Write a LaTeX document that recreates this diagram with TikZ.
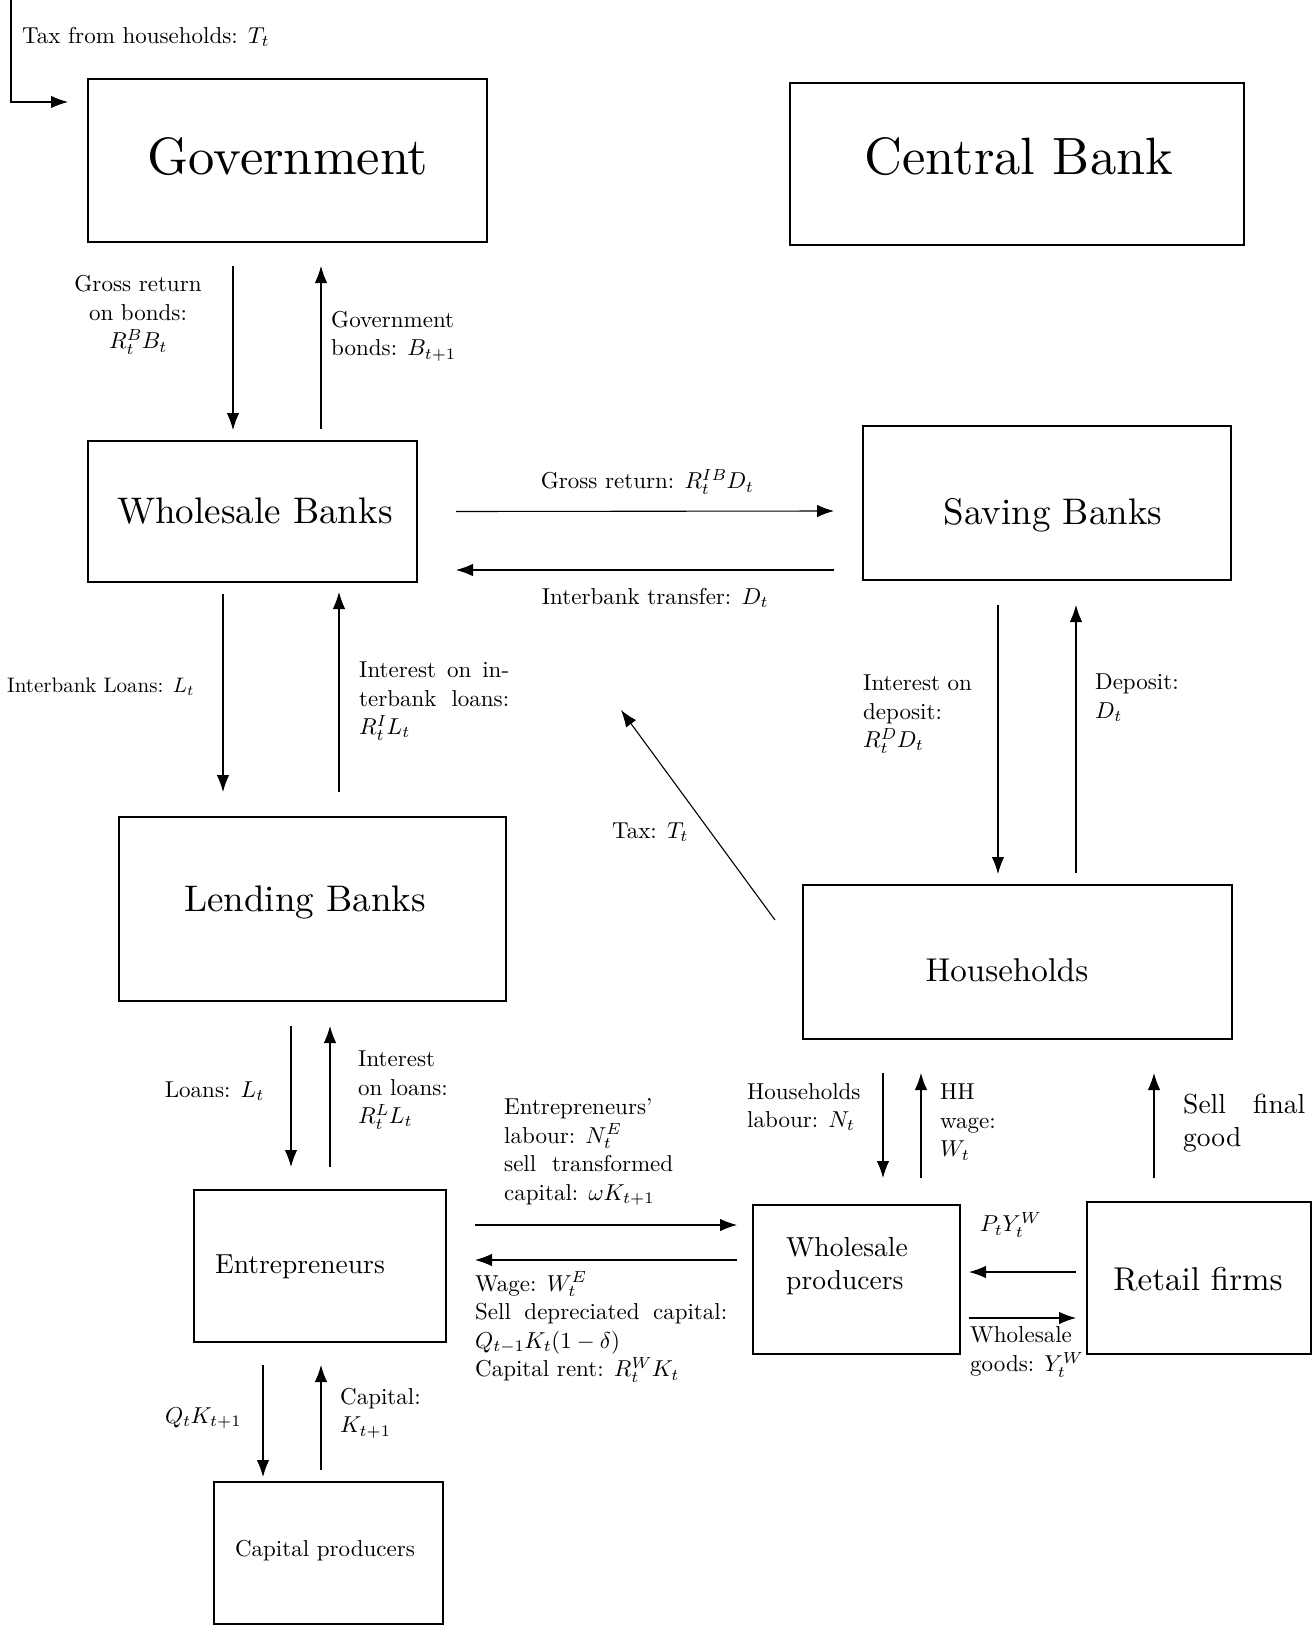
\documentclass[tikz,border=0pt]{standalone}
\usepackage{fix-cm}
\usepackage[no-math]{fontspec}
\setmainfont{lmroman10-regular.otf}[ItalicFont=lmroman10-italic.otf, BoldFont=lmroman10-bold.otf]
\DeclareFontShape{OML}{cmm}{m}{it}{<-14>cmmi5<14-20>cmmi7<20->cmmi10}{}
\DeclareFontShape{OMS}{cmsy}{m}{n}{<-14>cmsy5<14-20>cmsy7<20->cmsy10}{}
\DeclareFontShape{OT1}{cmr}{m}{n}{<-14>cmr5<14-20>cmr7<20->cmr10}{}
\usetikzlibrary{calc,arrows.meta}
\tikzset{
  box/.style={draw, line width=1.1pt, inner sep=0pt, outer sep=0pt},
  arr/.style={line width=1.1pt, -{Latex[length=17pt,width=12.5pt]}},
  lbl/.style={inner sep=0pt, font=\fontsize{23}{28.5}\selectfont},
  lbls/.style={inner sep=0pt, font=\fontsize{21}{26}\selectfont},
  ttHuge/.style={inner sep=0pt, font=\fontsize{52.5}{60}\selectfont},
  ttLarge/.style={inner sep=0pt, font=\fontsize{37}{44}\selectfont},
  ttlarge/.style={inner sep=0pt, font=\fontsize{33}{40}\selectfont},
  ttmed/.style={inner sep=0pt, font=\fontsize{27.5}{33}\selectfont},
}
\begin{document}
\begin{tikzpicture}[x=1pt,y=-1pt]
\useasboundingbox (0,0) rectangle (1315,1627);

% boxes
\node[box, minimum width=399pt, minimum height=163pt] (gov) at (287.5,160.5) {};
\node[box, minimum width=454pt, minimum height=162pt] (cb)  at (1017,164) {};
\node[box, minimum width=329pt, minimum height=141pt] (wb)  at (252.5,511.5) {};
\node[box, minimum width=368pt, minimum height=154pt] (sb)  at (1047,503) {};
\node[box, minimum width=387pt, minimum height=184pt] (lb)  at (312.5,909) {};
\node[box, minimum width=429pt, minimum height=154pt] (hh)  at (1017.5,962) {};
\node[box, minimum width=252pt, minimum height=152pt] (ent) at (320,1266) {};
\node[box, minimum width=207pt, minimum height=149pt] (wp)  at (856.5,1279.5) {};
\node[box, minimum width=224pt, minimum height=152pt] (rf)  at (1199,1278) {};
\node[box, minimum width=229pt, minimum height=142pt] (cp)  at (328.5,1553) {};

% titles
\node[ttHuge, anchor=base] (govt) at (288,174) {Government};
\node[ttHuge, anchor=base] (cbt) at (1019,174) {Central Bank};
\node[ttLarge, anchor=base] (wbt) at (255,523) {Wholesale Banks};
\node[ttLarge, anchor=base] (sbt) at (1053,524) {Saving Banks};
\node[ttLarge, anchor=base] (lbt) at (305,911) {Lending Banks};
\node[ttlarge, anchor=base] (hht) at (1007,981) {Households};
\node[ttlarge, anchor=base] (rft) at (1198,1290) {Retail firms};
\node[ttmed, anchor=base west] (entt) at (215,1273) {Entrepreneurs};
\node[ttmed, anchor=base west, align=left] (wpt) at (786,1289) {Wholesale\\producers};
\node[lbl, anchor=base] (cpt) at (325,1556) {Capital producers};

% tax from households
\coordinate (taxtop) at (11,0);
\draw[arr] (taxtop) |- ($(gov.north west)+(-20,23)$);
\node[lbl, anchor=west] (taxl) at (22,37) {Tax from households: $T_t$};

% government <-> wholesale banks
\draw[arr] ($(gov.south)+(-54.5,24)$) -- ($(wb.north)+(-19.5,-11)$);
\draw[arr] ($(wb.north)+(68.5,-12)$) -- ($(gov.south)+(33.5,24)$);
\node[lbl, align=center] (l1) at (138,315) {Gross return\\on bonds:\\$R^B_tB_t$};
\node[lbl, align=left, anchor=west] (l2) at (331,336) {Government\\bonds: $B_{t+1}$};

% wholesale banks <-> saving banks
\draw[arr] ($(wb.east)+(39,0)$) -- ($(sb.west)+(-29,8)$);
\draw[arr] ($(sb.west)+(-29,67)$) -- ($(wb.east)+(39,58.5)$);
\node[lbl] (l3) at (647,482) {Gross return: $R^{IB}_tD_t$};
\node[lbl] (l4) at (655,598) {Interbank transfer: $D_t$};

% wholesale banks <-> lending banks
\draw[arr] ($(wb.south)+(-29.5,12)$) -- ($(lb.north)+(-89.5,-25)$);
\draw[arr] ($(lb.north)+(26.5,-25)$) -- ($(wb.south)+(86.5,10)$);
\node[lbls, anchor=west] (l5) at (7,687) {Interbank Loans: $L_t$};
\node[lbl, align=left, anchor=west] (l6) at (359,701)
  {\makebox[150pt][s]{Interest on in-}\\\makebox[150pt][s]{terbank loans:}\\$R^I_tL_t$};

% saving banks <-> households
\draw[arr] ($(sb.south)+(-49,25)$) -- ($(hh.north)+(-19.5,-11)$);
\draw[arr] ($(hh.north)+(58.5,-12)$) -- ($(sb.south)+(29,25)$);
\node[lbl, align=left, anchor=west] (l7) at (863,714) {Interest on\\deposit:\\$R^D_tD_t$};
\node[lbl, align=left, anchor=west] (l8) at (1095,698) {Deposit:\\$D_t$};

% tax from households
\coordinate (taxtip) at (621,710);
\draw[arr] ($(hh.north west)+(-28,35)$) -- (taxtip);
\node[lbl] (l9) at (650,832) {Tax: $T_t$};

% lending banks <-> entrepreneurs
\draw[arr] ($(lb.south)+(-21.5,25)$) -- ($(ent.north)+(-29,-23)$);
\draw[arr] ($(ent.north)+(10,-23)$) -- ($(lb.south)+(17.5,25)$);
\node[lbl, anchor=east] (l10) at (264,1091) {Loans: $L_t$};
\node[lbl, align=left, anchor=west] (l11) at (358,1090) {Interest\\on loans:\\$R^L_tL_t$};

% entrepreneurs <-> wholesale producers
\draw[arr] ($(ent.east)+(29,-41)$) -- ($(wp.west)+(-16,-54.5)$);
\draw[arr] ($(wp.west)+(-16,-19.5)$) -- ($(ent.east)+(29,-6)$);
\node[lbl, align=left, anchor=west] (l12) at (504,1152)
  {Entrepreneurs'\\labour: $N^E_t$\\\makebox[169pt][s]{sell transformed}\\capital: $\omega K_{t+1}$};
\node[lbl, align=left, anchor=west] (l13) at (475,1327)
  {Wage: $W^E_t$\\\makebox[252pt][s]{Sell depreciated capital:}\\$Q_{t-1}K_t(1-\delta)$\\Capital rent: $R^W_tK_t$};

% households <-> wholesale producers
\draw[arr] ($(hh.south)+(-134.5,34)$) -- ($(wp.north)+(26.5,-27)$);
\draw[arr] ($(wp.north)+(64.5,-27)$) -- ($(hh.south)+(-96.5,34)$);
\node[lbl, align=left, anchor=west] (l14) at (747,1107) {Households\\labour: $N_t$};
\node[lbl, align=left, anchor=west] (l15) at (940,1122) {HH\\wage:\\$W_t$};

% retail firms -> households
\draw[arr] ($(rf.north)+(-45,-24)$) -- ($(hh.south)+(136.5,34)$);
\node[ttmed, align=left, anchor=west] (l16) at (1183,1123) {\makebox[122pt][s]{Sell final}\\good};

% retail firms <-> wholesale producers
\draw[arr] ($(rf.west)+(-11,-6)$) -- ($(wp.east)+(9,-7.5)$);
\draw[arr] ($(wp.east)+(9,38.5)$) -- ($(rf.west)+(-11,40)$);
\node[lbl, anchor=west] (l17) at (980,1225) {$P_tY^W_t$};
\node[lbl, align=left, anchor=west] (l18) at (970,1352) {Wholesale\\goods: $Y^W_t$};

% entrepreneurs <-> capital producers
\draw[arr] ($(ent.south)+(-57,23)$) -- ($(cp.north)+(-65.5,-5)$);
\draw[arr] ($(cp.north)+(-7.5,-12)$) -- ($(ent.south)+(1,23)$);
\node[lbl] (l19) at (203,1418) {$Q_tK_{t+1}$};
\node[lbl, align=left, anchor=west] (l20) at (340,1413) {Capital:\\$K_{t+1}$};
\end{tikzpicture}
\end{document}
